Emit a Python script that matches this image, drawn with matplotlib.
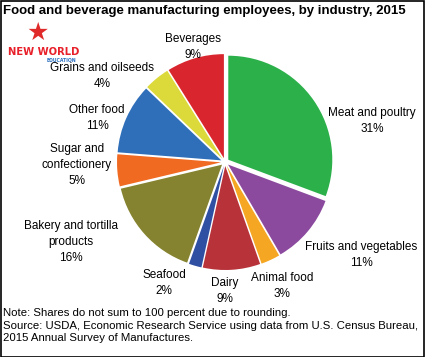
import matplotlib
matplotlib.use("Agg")
import matplotlib.pyplot as plt

## Data
industries = ["Meat and poultry", "Fruits and vegetables", "Animal food", "Dairy",
              "Seafood", "Bakery and tortilla\nproducts", "Sugar and\nconfectionery",
              "Other food", "Grains and oilseeds", "Beverages"]
shares = [31, 11, 3, 9, 2, 16, 5, 11, 4, 9]
colors = ["#2bb04a", "#8b4a9e", "#f5a623", "#b8323a", "#2f4fa3",
          "#85832f", "#f06a22", "#2f6fba", "#dcd93a", "#d9252d"]

# label block centres, in pixels from the top left of the picture
label_pos = [(372, 121), (361, 255), (282, 286), (225, 291), (164, 283),
             (71, 242), (77, 165), (97, 118), (102, 76), (193, 47)]

W, H = 425, 357

## Figure: one axes over the whole canvas, data units = pixels
fig = plt.figure(figsize=(W / 100, H / 100), dpi=100)
ax = fig.add_axes([0, 0, 1, 1])

# explode is in data units here (pixels)
ax.pie(shares, colors=colors, startangle=90, counterclock=False,
       explode=[4] * len(shares), center=(225, H - 162), radius=104,
       wedgeprops=dict(linewidth=0), frame=True)
ax.set_xlim(0, W)
ax.set_ylim(0, H)
ax.axis("off")

for name, val, (x, y) in zip(industries, shares, label_pos):
    ax.text(x, H - y, "{}\n{}%".format(name, val), ha="center", va="center",
            fontsize=8.5, family="Liberation Sans", linespacing=1.45)

## Title and notes
fig.text(3 / W, 1 - 11 / H, "Food and beverage manufacturing employees, by industry, 2015",
         ha="left", va="center", fontsize=9.5, fontweight="bold", family="Liberation Sans")
notes = ("Note: Shares do not sum to 100 percent due to rounding.\n"
         "Source: USDA, Economic Research Service using data from U.S. Census Bureau,\n"
         "2015 Annual Survey of Manufactures.")
fig.text(3 / W, 1 - 308 / H, notes, ha="left", va="top", fontsize=8.2,
         family="Liberation Sans", linespacing=1.32)

## Logo
fig.text(38 / W, 1 - 33 / H, "\u2605", ha="center", va="center", fontsize=18, color="#e02a2a")
fig.text(44 / W, 1 - 52 / H, "NEW WORLD", ha="center", va="center", fontsize=7.2,
         fontweight="heavy", color="#e8202a", family="DejaVu Sans")
fig.text(61 / W, 1 - 60 / H, "EDUCATION", ha="center", va="center", fontsize=3.3,
         fontweight="bold", color="#2a6fc0", family="DejaVu Sans")

## Border
fig.patches.append(plt.Rectangle((0.5 / W, 0.5 / H), 1 - 1.5 / W, 1 - 1.5 / H,
                                 transform=fig.transFigure, fill=False,
                                 edgecolor="black", linewidth=1.2))

fig.savefig("out.png", dpi=100)
